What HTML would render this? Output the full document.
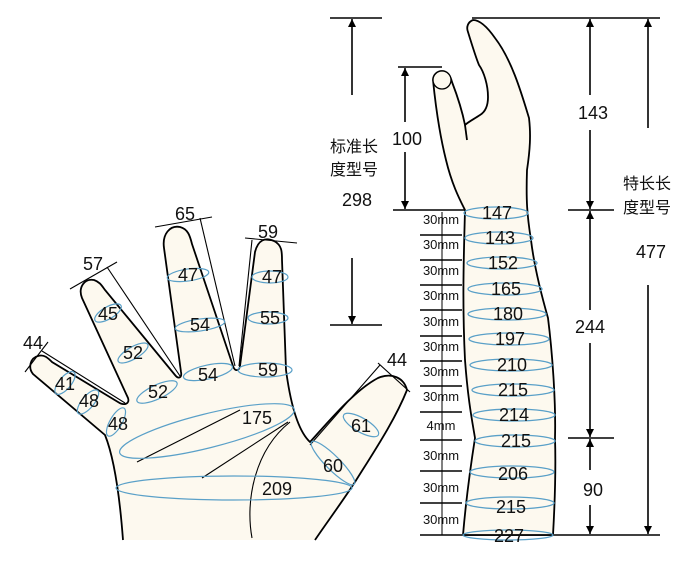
<!DOCTYPE html>
<html><head><meta charset="utf-8"><style>
html,body{margin:0;padding:0;background:#fff}
svg{display:block}
text{font-family:"Liberation Sans",Arial,sans-serif;fill:#111}
.n{font-size:18px;text-anchor:middle}
.s{font-size:13px;text-anchor:middle}
.c{font-family:"Liberation Sans","Noto Sans CJK SC",sans-serif;font-size:16px}
</style></head><body>
<svg width="700" height="566" viewBox="0 0 700 566" xmlns="http://www.w3.org/2000/svg">
<defs>
<marker id="a" viewBox="0 0 10 10" refX="10" refY="5" markerWidth="8" markerHeight="10" orient="auto-start-reverse" markerUnits="userSpaceOnUse"><path d="M0,0 L10,5 L0,10 z" fill="#000"/></marker>
</defs>
<g stroke="#000" stroke-width="1.6" fill="none">
<line x1="330" y1="18" x2="382" y2="18"/>
<line x1="352" y1="95" x2="352" y2="19" marker-end="url(#a)"/>
<line x1="352" y1="258" x2="352" y2="324" marker-end="url(#a)"/>
<line x1="330" y1="325" x2="382" y2="325"/>
<line x1="398" y1="67" x2="442" y2="67"/>
<line x1="405" y1="122" x2="405" y2="68" marker-end="url(#a)"/>
<line x1="405" y1="152" x2="405" y2="209" marker-end="url(#a)"/>
<line x1="393" y1="210" x2="468" y2="210"/>
<line x1="472" y1="18" x2="660" y2="18"/>
<line x1="590" y1="95" x2="590" y2="19" marker-end="url(#a)"/>
<line x1="590" y1="130" x2="590" y2="209" marker-end="url(#a)"/>
<line x1="648" y1="128" x2="648" y2="19" marker-end="url(#a)"/>
<line x1="648" y1="285" x2="648" y2="534" marker-end="url(#a)"/>
<line x1="568" y1="210" x2="614" y2="210"/>
<line x1="590" y1="310" x2="590" y2="211" marker-end="url(#a)"/>
<line x1="590" y1="343" x2="590" y2="437" marker-end="url(#a)"/>
<line x1="568" y1="438" x2="614" y2="438"/>
<line x1="590" y1="470" x2="590" y2="439" marker-end="url(#a)"/>
<line x1="590" y1="505" x2="590" y2="534" marker-end="url(#a)"/>
<line x1="420" y1="535" x2="660" y2="535"/>
<line x1="442" y1="212" x2="442" y2="535" stroke-width="1"/>
<g stroke-width="1.4">
<line x1="420" y1="235" x2="462" y2="235"/><line x1="420" y1="260" x2="462" y2="260"/>
<line x1="420" y1="285" x2="462" y2="285"/><line x1="420" y1="310" x2="462" y2="310"/>
<line x1="420" y1="336" x2="462" y2="336"/><line x1="420" y1="361" x2="462" y2="361"/>
<line x1="420" y1="386" x2="462" y2="386"/><line x1="420" y1="412" x2="462" y2="412"/>
<line x1="420" y1="440" x2="462" y2="440"/><line x1="420" y1="471" x2="462" y2="471"/>
<line x1="420" y1="503" x2="462" y2="503"/>
</g>
</g>
<!-- arm -->
<path d="M433,80 C436,110 441,140 446,160 C452,185 460,200 465,210 C464,250 462,300 465,360 C468,400 472,420 475,438 C470,470 466,500 463,535 L553,535 C555,500 556,470 555,438 C556,400 552,350 548,318 C540,290 534,265 531,240 C527,215 526,200 527,170 C530,150 531,135 529,118 C522,95 512,60 495,38 C488,28 480,20 473,20 C468,22 466,27 468,32 C472,45 476,58 479,65 C484,72 488,85 488,97 C488,106 485,112 480,115 C474,119 468,122 465,125 C462,110 457,95 452,82 C450,74 446,71 442,71 C437,71 433,75 433,80 Z" fill="#fdf9ef" stroke="#000" stroke-width="1.8" stroke-linejoin="round"/>
<line x1="465" y1="125" x2="467" y2="140" stroke="#000" stroke-width="1.8"/>
<circle cx="442" cy="80" r="9" fill="#fdf9ef" stroke="#000" stroke-width="1.3"/>
<g fill="none" stroke="#5aa0c8" stroke-width="1.3">
<ellipse cx="496" cy="213" rx="32" ry="6"/><ellipse cx="499" cy="238" rx="34" ry="6"/>
<ellipse cx="502" cy="263" rx="35" ry="6"/><ellipse cx="505" cy="289" rx="37" ry="6"/>
<ellipse cx="507" cy="314" rx="39" ry="6"/><ellipse cx="509" cy="339" rx="40" ry="6"/>
<ellipse cx="511" cy="365" rx="41" ry="6"/><ellipse cx="513" cy="390" rx="41" ry="6"/>
<ellipse cx="514" cy="415" rx="41" ry="6"/><ellipse cx="515" cy="441" rx="40" ry="6"/>
<ellipse cx="512" cy="472" rx="42" ry="6"/><ellipse cx="510" cy="503" rx="44" ry="6"/>
<ellipse cx="508" cy="535" rx="45" ry="5"/>
</g>
<g class="n">
<text x="497" y="219">147</text><text x="500" y="244">143</text><text x="503" y="269">152</text>
<text x="506" y="295">165</text><text x="508" y="320">180</text><text x="510" y="345">197</text>
<text x="512" y="371">210</text><text x="513" y="396">215</text><text x="514" y="421">214</text>
<text x="516" y="447">215</text><text x="513" y="480">206</text><text x="511" y="513">215</text>
<text x="509" y="542">227</text>
</g>
<g class="s">
<text x="441" y="224">30mm</text><text x="441" y="249">30mm</text><text x="441" y="275">30mm</text>
<text x="441" y="300">30mm</text><text x="441" y="326">30mm</text><text x="441" y="351">30mm</text>
<text x="441" y="376">30mm</text><text x="441" y="401">30mm</text><text x="441" y="430">4mm</text>
<text x="441" y="460">30mm</text><text x="441" y="492">30mm</text><text x="441" y="524">30mm</text>
</g>
<text class="n" x="407" y="145">100</text>
<text class="n" x="357" y="206">298</text>
<text class="n" x="593" y="119">143</text>
<text class="n" x="590" y="333">244</text>
<text class="n" x="593" y="496">90</text>
<text class="n" x="651" y="258">477</text>
<text class="c" x="330" y="152">标准长</text>
<text class="c" x="330" y="175">度型号</text>
<text class="c" x="623" y="189">特长长</text>
<text class="c" x="623" y="213">度型号</text>

<!-- hand -->
<path d="M123,540 C120,500 115,460 105,435 L33,374 C28,368 30,358 38,356 C44,354 48,358 52,362 L118,402 C124,406 130,404 128,398 L82,298 C78,288 84,278 94,280 C100,282 102,286 105,290 L175,375 C179,380 182,377 181,372 L164,248 C162,234 170,225 180,227 C188,229 190,236 192,244 L233,366 C235,372 239,371 240,366 L255,252 C258,240 265,237 274,241 C282,245 282,252 282,260 L286,370 C290,400 297,430 310,442 C330,420 355,390 378,378 C392,372 404,378 407,390 C395,420 375,450 355,482 C340,505 325,525 315,540 Z" fill="#fdf9ef" stroke="none"/>
<path d="M123,540 C120,500 115,460 105,435 L33,374 C28,368 30,358 38,356 C44,354 48,358 52,362 L118,402 C124,406 130,404 128,398 L82,298 C78,288 84,278 94,280 C100,282 102,286 105,290 L175,375 C179,380 182,377 181,372 L164,248 C162,234 170,225 180,227 C188,229 190,236 192,244 L233,366 C235,372 239,371 240,366 L255,252 C258,240 265,237 274,241 C282,245 282,252 282,260 L286,370 C290,400 297,430 310,442 C330,420 355,390 378,378 C392,372 404,378 407,390 C395,420 375,450 355,482 C340,505 325,525 315,540" fill="none" stroke="#000" stroke-width="1.8"/>
<g stroke="#000" fill="none" stroke-width="1.1">
<path d="M252,538 C245,500 255,450 290,422"/>
<line x1="137" y1="462" x2="240" y2="410"/>
<line x1="202" y1="478" x2="288" y2="422"/>
<line x1="25" y1="372" x2="48" y2="342"/><line x1="42" y1="351" x2="125" y2="403"/>
<line x1="70" y1="289" x2="117" y2="262"/><line x1="107" y1="267" x2="180" y2="376"/>
<line x1="155" y1="227" x2="212" y2="217"/><line x1="200" y1="218" x2="235" y2="366"/>
<line x1="245" y1="238" x2="297" y2="243"/><line x1="252" y1="240" x2="239" y2="366"/>
<line x1="310" y1="445" x2="380" y2="365"/><line x1="378" y1="363" x2="410" y2="392"/>
</g>
<g fill="none" stroke="#5aa0c8" stroke-width="1.2">
<ellipse cx="65" cy="383" rx="14" ry="6" transform="rotate(-50 65 383)"/>
<ellipse cx="88" cy="402" rx="15" ry="6" transform="rotate(-50 88 402)"/>
<ellipse cx="116" cy="422" rx="16" ry="6" transform="rotate(-60 116 422)"/>
<ellipse cx="108" cy="313" rx="15" ry="6" transform="rotate(-30 108 313)"/>
<ellipse cx="133" cy="353" rx="17" ry="6" transform="rotate(-30 133 353)"/>
<ellipse cx="157" cy="392" rx="22" ry="7" transform="rotate(-25 157 392)"/>
<ellipse cx="188" cy="275" rx="21" ry="6" transform="rotate(-8 188 275)"/>
<ellipse cx="200" cy="325" rx="25" ry="6" transform="rotate(-8 200 325)"/>
<ellipse cx="208" cy="372" rx="25" ry="7" transform="rotate(-12 208 372)"/>
<ellipse cx="270" cy="277" rx="18" ry="6"/>
<ellipse cx="268" cy="318" rx="20" ry="6"/>
<ellipse cx="265" cy="370" rx="27" ry="7"/>
<ellipse cx="207" cy="431" rx="90" ry="17" transform="rotate(-14 207 431)"/>
<ellipse cx="234" cy="488" rx="118" ry="12"/>
<ellipse cx="361" cy="425" rx="20" ry="7" transform="rotate(30 361 425)"/>
<ellipse cx="333" cy="463" rx="30" ry="7" transform="rotate(45 333 463)"/>
</g>
<g class="n">
<text x="33" y="349">44</text><text x="93" y="270">57</text><text x="185" y="220">65</text>
<text x="268" y="238">59</text><text x="397" y="366">44</text>
<text x="65" y="390">41</text><text x="89" y="407">48</text><text x="118" y="430">48</text>
<text x="108" y="320">45</text><text x="133" y="359">52</text><text x="158" y="398">52</text>
<text x="188" y="281">47</text><text x="200" y="331">54</text><text x="208" y="381">54</text>
<text x="272" y="283">47</text><text x="270" y="324">55</text><text x="268" y="376">59</text>
<text x="257" y="424">175</text><text x="277" y="495">209</text>
<text x="361" y="432">61</text><text x="333" y="472">60</text>
</g>
</svg>
</body></html>
